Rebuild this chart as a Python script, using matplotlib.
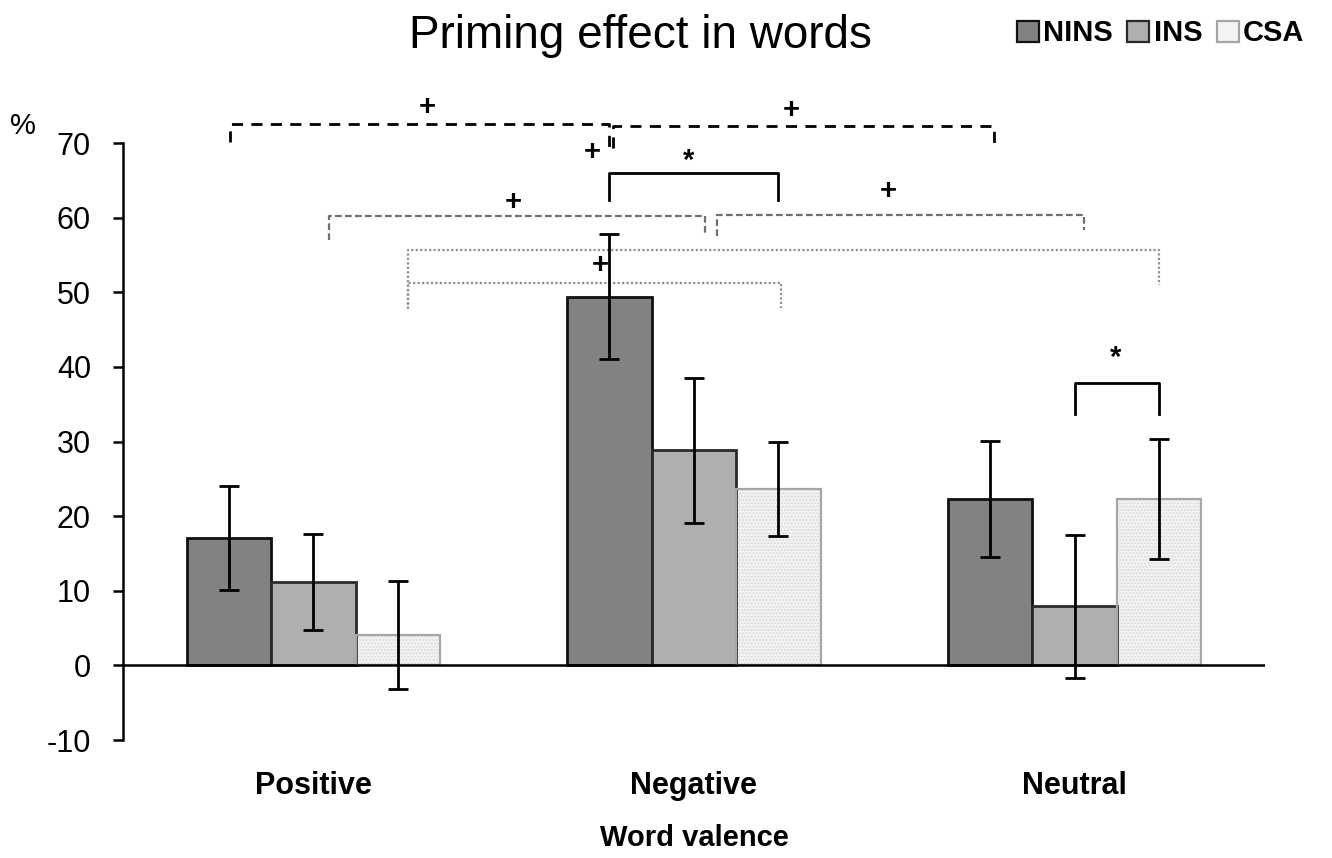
import numpy as np
import matplotlib
matplotlib.use("Agg")
import matplotlib.pyplot as plt
import matplotlib.patches as patches

plt.rcParams['font.family'] = ['Liberation Sans', 'DejaVu Sans']
plt.rcParams['axes.unicode_minus'] = False

valence = ['Positive', 'Negative', 'Neutral']
groups = ['NINS', 'INS', 'CSA']
means = {
    'NINS': [17.1, 49.4, 22.3],
    'INS': [11.2, 28.8, 7.9],
    'CSA': [4.1, 23.7, 22.3],
}
errors = {
    'NINS': [7.0, 8.4, 7.8],
    'INS': [6.4, 9.7, 9.6],
    'CSA': [7.2, 6.3, 8.1],
}

face = {'NINS': '#828282', 'INS': '#b1aeae', 'CSA': '#f3f3f3'}
edge = {'NINS': '#111111', 'INS': '#2a2a2a', 'CSA': '#a6a6a6'}

fig = plt.figure(figsize=(13.32, 8.58), dpi=100)
ax = fig.add_axes([0.0923, 0.1375, 0.8574, 0.7654])

x = np.arange(len(valence))
w = 0.222
offs = {'NINS': -w, 'INS': 0.0, 'CSA': w}

for g in groups:
    pos = x + offs[g]
    if g == 'CSA':
        # fine dotted fill for the control group
        ax.bar(pos, means[g], w, color=face[g], edgecolor='#dadada',
               hatch='.....', linewidth=0, zorder=2)
        ax.bar(pos, means[g], w, fill=False, edgecolor=edge[g],
               linewidth=1.6, zorder=3)
    else:
        ax.bar(pos, means[g], w, color=face[g], edgecolor=edge[g],
               linewidth=2.0, zorder=3)
    ax.errorbar(pos, means[g], yerr=errors[g], fmt='none', ecolor='black',
                elinewidth=2, capsize=7, capthick=2, zorder=4)

ax.axhline(0, color='black', lw=1.8, zorder=5)

ax.set_xlim(-0.5, 2.5)
ax.set_ylim(-10, 78)
ax.set_yticks(range(-10, 80, 10))
ax.spines['left'].set_bounds(-10, 70)
ax.spines['left'].set_linewidth(1.8)
for s in ['top', 'right', 'bottom']:
    ax.spines[s].set_visible(False)
ax.tick_params(axis='y', labelsize=22, length=7, width=1.8, pad=16)
ax.set_xticks(x)
ax.set_xticklabels(valence, fontsize=22, fontweight='bold')
ax.tick_params(axis='x', length=0, pad=22)
ax.set_xlabel('Word valence', fontsize=21, fontweight='bold', labelpad=17)


def bracket(x0, x1, y, d0, d1, **kw):
    ax.plot([x0, x0, x1, x1], [y - d0, y, y, y - d1], clip_on=False, **kw)


black_dash = dict(color='black', lw=2, ls=(0, (4, 3)))
gray_dash = dict(color='#6f6f6f', lw=1.6, ls=(0, (3, 1.5)))
gray_dot = dict(color='#8f8f8f', lw=1.6, ls=(0, (1, 1)))
solid = dict(color='black', lw=2)

# NINS across valence
bracket(-0.22, 0.776, 72.6, 2.5, 3.3, **black_dash)
bracket(0.786, 1.787, 72.3, 3.0, 3.2, **black_dash)
# INS across valence
bracket(0.04, 1.03, 60.2, 3.2, 2.6, **gray_dash)
bracket(1.06, 2.025, 60.4, 2.8, 2.0, **gray_dash)
# CSA across valence
bracket(0.25, 2.222, 55.6, 7.9, 4.6, **gray_dot)
bracket(0.25, 1.229, 51.3, 3.6, 3.4, **gray_dot)
# within-valence comparisons
bracket(0.778, 1.222, 66.0, 3.6, 3.6, **solid)
bracket(2.0, 2.222, 37.8, 4.1, 4.1, **solid)

marks = [
    (0.30, 74.8, '+'), (1.256, 74.4, '+'), (0.734, 68.8, '+'),
    (0.525, 62.1, '+'), (1.511, 63.6, '+'), (0.755, 53.7, '+'),
    (0.987, 67.6, '*'), (2.107, 41.2, '*'),
]
for mx, my, m in marks:
    ax.text(mx, my, m, ha='center', va='center', fontsize=21,
            fontweight='bold', clip_on=False)

fig.text(0.017, 0.853, '%', fontsize=21, ha='center', va='center')
fig.text(0.481, 0.958, 'Priming effect in words', fontsize=33,
         ha='center', va='center')

handles = [
    patches.Patch(facecolor=face[g], edgecolor=edge[g], linewidth=1.6)
    for g in groups
]
fig.legend(handles, groups, loc='upper right', bbox_to_anchor=(0.999, 1.008),
           ncol=3, frameon=False, handlelength=0.75, handleheight=0.75,
           handletextpad=0.15, columnspacing=0.5,
           prop={'size': 21, 'weight': 'bold'})

fig.savefig('out.png', dpi=100)
